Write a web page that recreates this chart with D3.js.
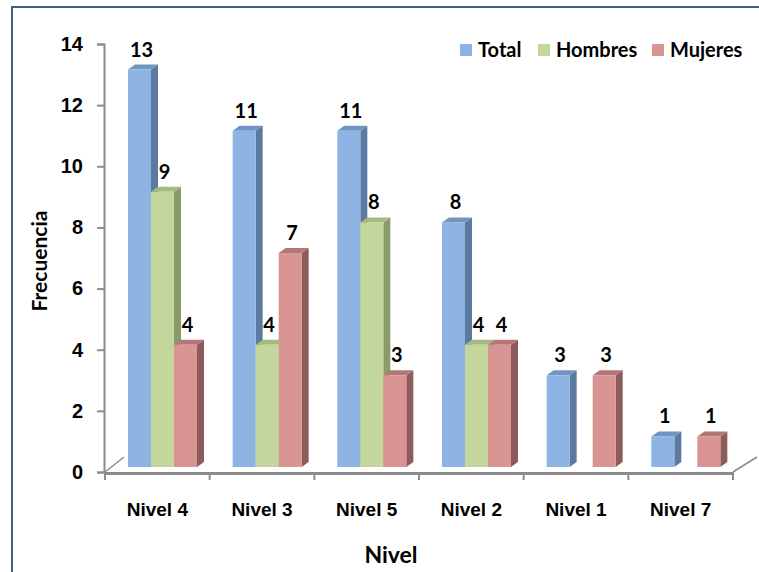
<!DOCTYPE html>
<html>
<head>
<meta charset="utf-8">
<script src="https://cdn.jsdelivr.net/npm/d3@7"></script>
<style>
  body { margin: 0; background: #fff; }
  svg { display: block; font-family: Lato, "Open Sans", sans-serif; }
</style>
</head>
<body>
<svg id="chart" width="759" height="572"></svg>
<script>
// data
const categories = ["Nivel 4", "Nivel 3", "Nivel 5", "Nivel 2", "Nivel 1", "Nivel 7"];
const seriesNames = ["Total", "Hombres", "Mujeres"];
const total   = [13, 11, 11, 8, 3, 1];
const hombres = [9, 4, 8, 4, 0, 0];
const mujeres = [4, 7, 3, 4, 3, 1];
const yTicks  = [0, 2, 4, 6, 8, 10, 12, 14];

const seriesValues = [total, hombres, mujeres];
// front / side / top shades for the fake 3D columns
const colors = [
    { front: "#8db3e2", side: "#5a7aa1", top: "#7294c0" },
    { front: "#c3d69b", side: "#8a9a69", top: "#a7b97f" },
    { front: "#d99594", side: "#8e5b5b", top: "#b57676" }
];

const svg = d3.select("#chart");

// outer chart frame (cut by the picture on the right and bottom)
svg.append("rect")
    .attr("x", 12).attr("y", 7)
    .attr("width", 800).attr("height", 620)
    .attr("fill", "none")
    .attr("stroke", "#3a5f8e")
    .attr("stroke-width", 2);

const x = d3.scaleBand().domain(categories).range([105, 733]);
const xs = d3.scaleBand().domain(seriesNames).range([23, 92]);
const y = d3.scaleLinear().domain([0, 14]).range([472, 44]);

const depthX = 7, depthY = -5, lift = 5;   // 3D offsets
const yb = v => y(v) - lift;

const axisColor = "#8c8c8c";

// y axis
const yAxis = svg.append("g")
    .attr("transform", "translate(104,0)")
    .call(d3.axisLeft(y).tickValues(yTicks).tickSize(7).tickPadding(14).tickFormat(d3.format("d")));
yAxis.select(".domain").attr("stroke", axisColor).attr("stroke-width", 2);
yAxis.selectAll(".tick line").attr("stroke", axisColor).attr("stroke-width", 2);
yAxis.selectAll(".tick text")
    .attr("fill", "#000")
    .style("font-size", "20px")
    .style("font-weight", "bold");

// floor diagonals
svg.append("line")
    .attr("x1", 105).attr("y1", 472).attr("x2", 124).attr("y2", 457)
    .attr("stroke", axisColor).attr("stroke-width", 1.5);
svg.append("line")
    .attr("x1", 733).attr("y1", 472).attr("x2", 757).attr("y2", 457)
    .attr("stroke", axisColor).attr("stroke-width", 1.5);

// x axis
const xAxis = svg.append("g")
    .attr("transform", `translate(0,${y(0) + 1})`)
    .call(d3.axisBottom(x).tickSize(0).tickPadding(30));
xAxis.select(".domain").attr("stroke", axisColor).attr("stroke-width", 3);
xAxis.selectAll(".tick text")
    .attr("fill", "#000")
    .style("font-size", "19px")
    .style("font-weight", "bold");

// x tick marks sit on the category boundaries
const boundaries = categories.map(c => x(c)).concat([x.range()[1]]);
svg.append("g").selectAll("line")
    .data(boundaries)
    .join("line")
    .attr("x1", d => d).attr("x2", d => d)
    .attr("y1", y(0)).attr("y2", y(0) + 8)
    .attr("stroke", axisColor).attr("stroke-width", 2);

// bars
const bars = [];
categories.forEach((c, i) => {
    seriesNames.forEach((s, j) => {
        bars.push({ cat: c, series: s, j: j, value: seriesValues[j][i] });
    });
});

const barGroup = svg.append("g");
const w = xs.bandwidth();
bars.filter(d => d.value > 0).forEach(d => {
    const x0 = x(d.cat) + xs(d.series);
    const x1 = x0 + w;
    const top = yb(d.value);
    const base = yb(0);
    const col = colors[d.j];
    const g = barGroup.append("g");
    // side face
    g.append("path")
        .attr("d", `M${x1},${base}L${x1 + depthX},${base + depthY}L${x1 + depthX},${top + depthY}L${x1},${top}Z`)
        .attr("fill", col.side);
    // top face
    g.append("path")
        .attr("d", `M${x0},${top}L${x0 + depthX},${top + depthY}L${x1 + depthX},${top + depthY}L${x1},${top}Z`)
        .attr("fill", col.top);
    // front face
    g.append("rect")
        .attr("x", x0).attr("y", top)
        .attr("width", w).attr("height", base - top)
        .attr("fill", col.front);
});

// value labels
svg.append("g").selectAll("text")
    .data(bars.filter(d => d.value > 0))
    .join("text")
    .attr("x", d => x(d.cat) + xs(d.series) + w / 2 + 2)
    .attr("y", d => yb(d.value) - 13)
    .attr("text-anchor", "middle")
    .style("font-size", "20px")
    .style("font-weight", "bold")
    .text(d => d.value);

// axis titles
svg.append("text")
    .attr("transform", "translate(47,261) rotate(-90)")
    .attr("text-anchor", "middle")
    .style("font-size", "21px")
    .style("font-weight", "bold")
    .text("Frecuencia");

svg.append("text")
    .attr("x", 391).attr("y", 563)
    .attr("text-anchor", "middle")
    .style("font-size", "23px")
    .style("font-weight", "bold")
    .text("Nivel");

// legend
const legendX = [460, 538, 652];
const legend = svg.append("g").selectAll("g")
    .data(seriesNames)
    .join("g")
    .attr("transform", (d, i) => `translate(${legendX[i]},44)`);
legend.append("rect")
    .attr("width", 12).attr("height", 12)
    .attr("fill", (d, i) => colors[i].front);
legend.append("text")
    .attr("x", 18).attr("y", 12.5)
    .style("font-size", "20px")
    .style("font-weight", "bold")
    .text(d => d);
</script>
</body>
</html>
